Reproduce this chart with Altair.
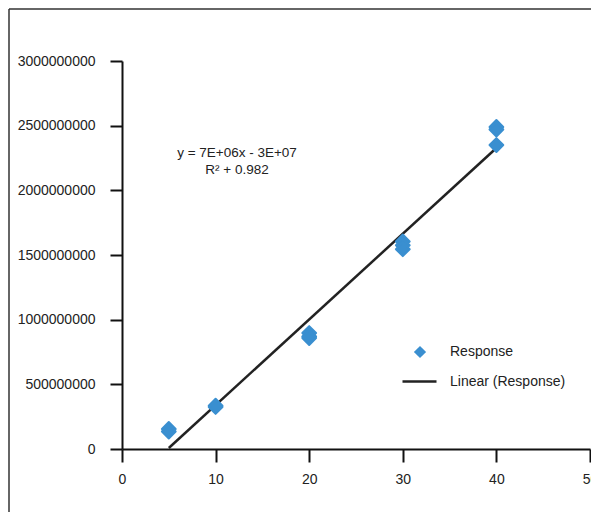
import altair as alt
import pandas as pd

# Data
conc = [5, 5, 10, 10, 20, 20, 20, 30, 30, 30, 40, 40, 40]
response = [155e6, 135e6, 335e6, 325e6, 897e6, 870e6, 858e6,
            1605e6, 1575e6, 1545e6, 2490e6, 2470e6, 2350e6]
line_x = [5, 40]
line_y = [8e6, 2.327e9]

x_ticks = [0, 10, 20, 30, 40, 50]
y_ticks = [0, 5e8, 1e9, 1.5e9, 2e9, 2.5e9, 3e9]
eq_text = ["y = 7E+06x - 3E+07", "R\u00b2 + 0.982"]

pts = pd.DataFrame({"x": conc, "y": response, "series": "Response"})
ln = pd.DataFrame({"x": line_x, "y": line_y, "series": "Linear (Response)"})

BLUE = "#3a8fd0"
FONT = "Liberation Sans"

xs = alt.Scale(domain=[0, 50], nice=False, zero=False)
ys = alt.Scale(domain=[0, 3e9], nice=False)

xaxis = alt.Axis(values=x_ticks, grid=False, title=None, tickSize=13, labelPadding=10,
                 domainColor="#111", tickColor="#111", domainWidth=2, tickWidth=2,
                 labelFontSize=14, labelColor="#222", labelFont=FONT, labelFlush=False)
yaxis = alt.Axis(values=y_ticks, grid=False, title=None, tickSize=12, labelPadding=15,
                 format="d", domainColor="#111", tickColor="#111", domainWidth=2, tickWidth=2,
                 labelFontSize=14, labelColor="#222", labelFont=FONT)

points = alt.Chart(pts).mark_point(
    shape="diamond", filled=True, size=190, opacity=1,
    stroke=BLUE, strokeWidth=2, strokeJoin="round"
).encode(
    x=alt.X("x:Q", scale=xs, axis=xaxis),
    y=alt.Y("y:Q", scale=ys, axis=yaxis),
    color=alt.Color("series:N", scale=alt.Scale(domain=["Response"], range=[BLUE]),
                    legend=alt.Legend(title=None, orient="none", legendX=291, legendY=284,
                                      symbolType="diamond", symbolSize=150, labelFontSize=14,
                                      labelFont=FONT, labelColor="#222", labelOffset=23,
                                      padding=0, symbolStrokeWidth=0)),
)

fit = alt.Chart(ln).mark_line(strokeWidth=2.5).encode(
    x=alt.X("x:Q", scale=xs),
    y=alt.Y("y:Q", scale=ys),
    stroke=alt.Stroke("series:N", scale=alt.Scale(domain=["Linear (Response)"], range=["#222"]),
                      legend=alt.Legend(title=None, orient="none", legendX=279, legendY=302,
                                        symbolType="stroke", symbolSize=1156, symbolStrokeWidth=2.5,
                                        labelFontSize=14, labelFont=FONT, labelColor="#222",
                                        labelOffset=12, padding=0)),
)

eq = alt.Chart(pd.DataFrame({"t": [eq_text]})).mark_text(
    font=FONT, fontSize=13.5, color="#222", align="center", baseline="middle", lineHeight=17
).encode(x=alt.value(115), y=alt.value(92), text="t")

border_left = alt.Chart(pd.DataFrame({"a": [0]})).mark_rule(color="#333", strokeWidth=1.5).encode(
    x=alt.value(-113), y=alt.value(-52), y2=alt.value(470))
border_top = alt.Chart(pd.DataFrame({"a": [0]})).mark_rule(color="#333", strokeWidth=1.5).encode(
    x=alt.value(-113), x2=alt.value(490), y=alt.value(-52))

chart = alt.layer(fit, points, eq, border_left, border_top).properties(
    width=468, height=388,
    autosize=alt.AutoSizeParams(type="none"),
    padding={"left": 114, "top": 53, "right": 1, "bottom": 63},
).resolve_scale(color="independent", stroke="independent").configure_view(stroke=None)

chart.save("out.html", embed_options={"renderer": "svg", "actions": False})
